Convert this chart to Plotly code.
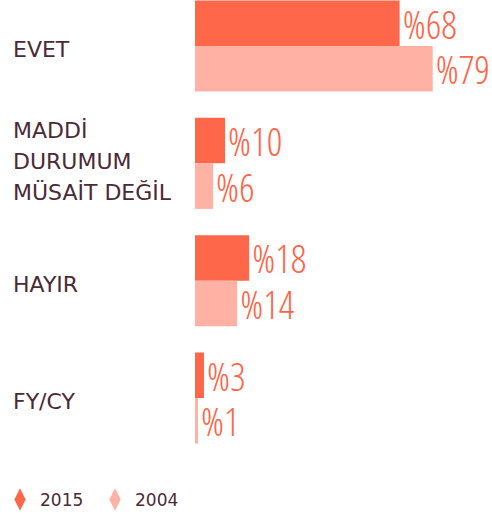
import plotly.graph_objects as go

# ---- data ----
categories = ["EVET", "MADDİ DURUMUM MÜSAİT DEĞİL", "HAYIR", "FY/CY"]
label_lines = [["EVET"], ["MADDİ", "DURUMUM", "MÜSAİT DEĞİL"], ["HAYIR"], ["FY/CY"]]
series_names = ["2015", "2004"]
values_2015 = [68, 10, 18, 3]
values_2004 = [79, 6, 14, 1]

# ---- style ----
C2015 = "#FF674B"
C2004 = "#FFB2A4"
TXT = "#4B2A36"
VAL_COLOR = "#FF6548"
VAL_FONT = dict(family="Open Sans Condensed Light, Open Sans Condensed, Roboto Condensed, Lato, sans-serif",
                size=39, weight=300, color=VAL_COLOR)
CAT_FONT = dict(family="DejaVu Sans, sans-serif", size=22, color=TXT)

fig = go.Figure()
for name, vals, col in [(series_names[0], values_2015, C2015), (series_names[1], values_2004, C2004)]:
    fig.add_trace(go.Bar(
        name=name, y=categories, x=vals, orientation="h",
        marker=dict(color=col, line=dict(width=0)),
        text=[f"%{v}" for v in vals], textposition="outside",
        textfont=VAL_FONT, constraintext="none", cliponaxis=False,
        showlegend=False, hoverinfo="skip",
    ))
    # legend-only diamond entries
    fig.add_trace(go.Scatter(
        name=name, x=[None], y=[None], mode="markers",
        marker=dict(symbol="diamond-tall", size=16, color=col),
        showlegend=True,
    ))

annotations = []
LINE_H = 31
for cat, lines in zip(categories, label_lines):
    n = len(lines)
    base = 2 if n > 1 else -4
    for i, ln in enumerate(lines):
        shift = -((i - (n - 1) / 2) * LINE_H) + base
        annotations.append(dict(
            xref="paper", yref="y", x=-184 / 297, y=cat, text=ln,
            xanchor="left", yanchor="middle", showarrow=False,
            font=CAT_FONT, yshift=shift,
        ))

fig.update_layout(
    width=492, height=519,
    margin=dict(l=195, r=0, t=0, b=62, pad=0),
    paper_bgcolor="white", plot_bgcolor="white",
    barmode="group", bargap=0.224, bargroupgap=0,
    xaxis=dict(range=[0, 98.7], visible=False, fixedrange=True),
    yaxis=dict(categoryorder="array", categoryarray=categories,
               range=[3.503, -0.392], visible=False, fixedrange=True),
    annotations=annotations,
    showlegend=True,
    legend=dict(orientation="h", xref="container", yref="container",
                x=0.0, y=1 - 500 / 519, xanchor="left", yanchor="middle",
                font=dict(family="DejaVu Sans, sans-serif", size=17, color=TXT),
                entrywidth=50, itemwidth=30, bgcolor="rgba(0,0,0,0)"),
)

fig.write_html("out.html", config={"displayModeBar": False},
               post_script="document.body.style.margin='0';")
